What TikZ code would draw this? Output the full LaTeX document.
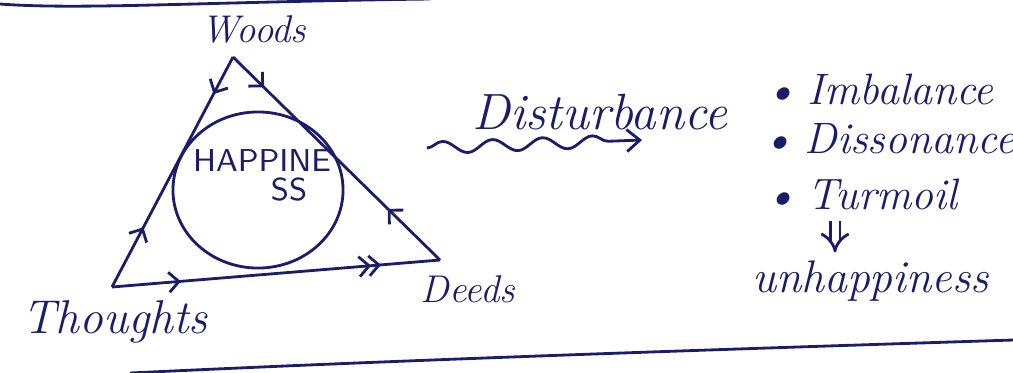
\documentclass[tikz,border=0pt]{standalone}
\usepackage{tikz}
\usetikzlibrary{arrows.meta,positioning,calc,shapes.geometric,decorations.markings,decorations.pathmorphing}
\definecolor{ink}{RGB}{26,30,105}

\begin{document}
\begin{tikzpicture}[x=0.01cm, y=-0.01cm,
    hand/.style={font=\fontsize{13}{15}\selectfont\itshape, text=ink, inner sep=1pt},
    item/.style={hand, font=\fontsize{12.5}{15}\selectfont\itshape, anchor=west},
    vlabel/.style={hand, font=\fontsize{11}{13}\selectfont\itshape},
    caps/.style={font=\fontsize{9}{11}\selectfont\sffamily, text=ink, inner sep=0pt},
    barb/.tip={Straight Barb[length=1mm, width=2mm]},
    side/.style={ink, thick, line join=round, postaction={decorate}},
    wave/.style={ink, thick, decorate, -{Straight Barb[length=1.3mm, width=2.2mm]},
        decoration={snake, amplitude=0.06cm, segment length=0.5cm, post length=0.12cm}},
    dbl/.style={ink, thick, double, double distance=2pt, -{Implies}, shorten <=0.07cm, shorten >=0.04cm},
    rule/.style={ink, thick},
]
\useasboundingbox (0,0) rectangle (1013,372);
% page rules
\draw[rule] (0,4) .. controls (80,10) and (200,2) .. (430,-1);
\draw[rule] (130,373) .. controls (400,360) and (700,350) .. (1013,340);
% Triangle corners and labels
\coordinate (tW) at (233,57);
\coordinate (tT) at (112,287);
\coordinate (tD) at (440,260);
\node[vlabel] (woods)    at (254,29)  {Woods};
\node[hand, font=\fontsize{13.5}{15}\selectfont\itshape] (thoughts) at (115,322) {Thoughts};
\node[vlabel] (deeds)    at (468,289) {Deeds};
% Circle
\node[draw=ink, thick, ellipse, minimum width=1.70cm, minimum height=1.56cm, inner sep=0] (happy) at (258,190) {};
\node[caps] (hapA) at (262,161) {HAPPINE};
\node[caps] (hapB) at (289,190) {SS};
% Edges with arrow marks
\draw[side, decoration={markings, mark=at position 0.26 with {\arrow{barb}},
    mark=at position 0.84 with {\arrowreversed{barb}}}] (tT) -- (tW);
\draw[side, decoration={markings, mark=at position 0.15 with {\arrow{barb}},
    mark=at position 0.75 with {\arrowreversed{barb}}}] (tW) -- (tD);
\draw[side, decoration={markings, mark=at position 0.21 with {\arrow{barb}},
    mark=at position 0.79 with {\arrow{barb}}, mark=at position 0.82 with {\arrow{barb}}}] (tT) -- (tD);
% Disturbance
\node[hand, font=\fontsize{14.5}{17}\selectfont\itshape] (dist) at (600,112) {Disturbance};
\coordinate (wvA) at (427,148);
\coordinate (wvB) at (642,140);
\draw[wave] (wvA) -- (wvB);
% List
\node[item] (imbal) at (760,89)  {\textbullet\hspace{3pt}Imbalance};
\node[item] (disso) at (757,139) {\textbullet\hspace{3pt}Dissonance};
\node[item] (turm)  at (760,194) {\textbullet\hspace{3pt}Turmoil};
\node[hand, anchor=west] (unhap) at (748,281) {unhappiness};
\coordinate (dnx) at (835,0);
\draw[dbl] (turm.south -| dnx) -- (unhap.north -| dnx);
\end{tikzpicture}
\end{document}
